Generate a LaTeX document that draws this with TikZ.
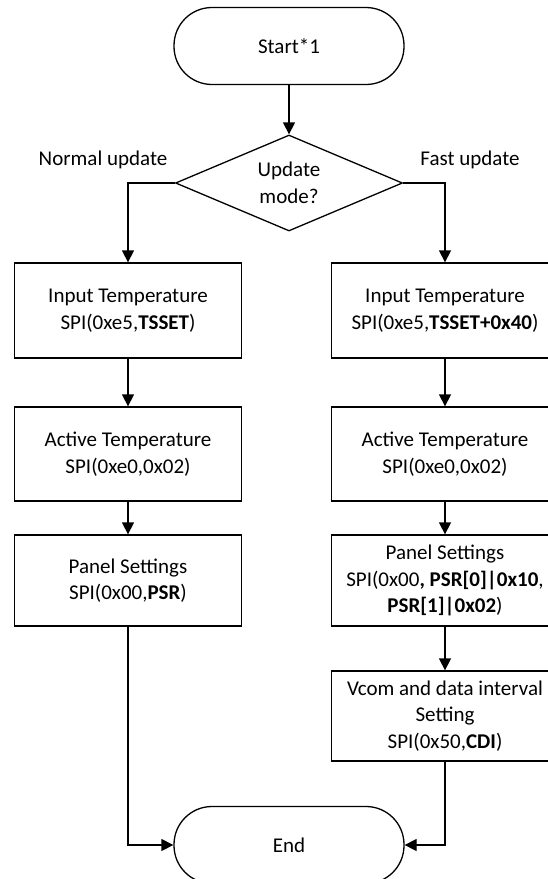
\documentclass[tikz,border=0pt]{standalone}
\usepackage{fontspec}
\setmainfont{Carlito}
\usetikzlibrary{positioning,arrows.meta,shapes.geometric}

\tikzset{
  every node/.style={font=\fontsize{21}{26.5}\selectfont},
  terminal/.style={draw, line width=1.3pt, rounded corners=38pt, minimum width=230pt, minimum height=77pt},
  decision/.style={draw, line width=1.3pt, diamond, aspect=2.36, minimum width=227pt, minimum height=96pt, inner sep=0pt, align=center},
  process/.style={draw, line width=1.3pt, minimum width=227pt, minimum height=92pt, inner sep=1pt, align=center},
  flow/.style={line width=1.3pt, -{Triangle[length=12pt,width=12pt]}}
}

\begin{document}
\begin{tikzpicture}[x=1pt, y=-1pt]
  \useasboundingbox (0,0) rectangle (548,879);

  \node[terminal] (start) at (289,46) {Start*1};
  \node[decision] (mode) at (289,183) {Update\\mode?};
  \node (normal) at (103,160) {Normal update};
  \node (fast) at (470,160) {Fast update};

  % normal update
  \node[process, minimum height=95pt] (in1) at (128,310.5) {Input Temperature\\SPI(0xe5,\textbf{TSSET})};
  \node[process, minimum height=94pt] (act1) at (128,454) {Active Temperature\\SPI(0xe0,0x02)};
  \node[process, minimum height=91pt] (psr1) at (128,580.5) {Panel Settings\\SPI(0x00,\textbf{PSR})};

  % fast update
  \node[process, minimum height=95pt] (in2) at (445,310.5) {Input Temperature\\SPI(0xe5,\textbf{TSSET+0x40})};
  \node[process, minimum height=94pt] (act2) at (445,454) {Active Temperature\\SPI(0xe0,0x02)};
  \node[process, minimum height=91pt] (psr2) at (445,580.5) {Panel Settings\\SPI(0x00\textbf{, PSR[0]|0x10},\\\textbf{PSR[1]|0x02})};
  \node[process, minimum height=90pt] (cdi2) at (445,716) {Vcom and data interval\\Setting\\SPI(0x50,\textbf{CDI})};

  \node[terminal] (end) at (289,845) {End};

  \draw[flow] (start) -- (mode);
  \draw[flow] (mode.west) -| (in1);
  \draw[flow] (mode.east) -| (in2);
  \draw[flow] (in1) -- (act1);
  \draw[flow] (act1) -- (psr1);
  \draw[flow] (psr1) |- (end.west);
  \draw[flow] (in2) -- (act2);
  \draw[flow] (act2) -- (psr2);
  \draw[flow] (psr2) -- (cdi2);
  \draw[flow] (cdi2) |- (end.east);
\end{tikzpicture}
\end{document}
